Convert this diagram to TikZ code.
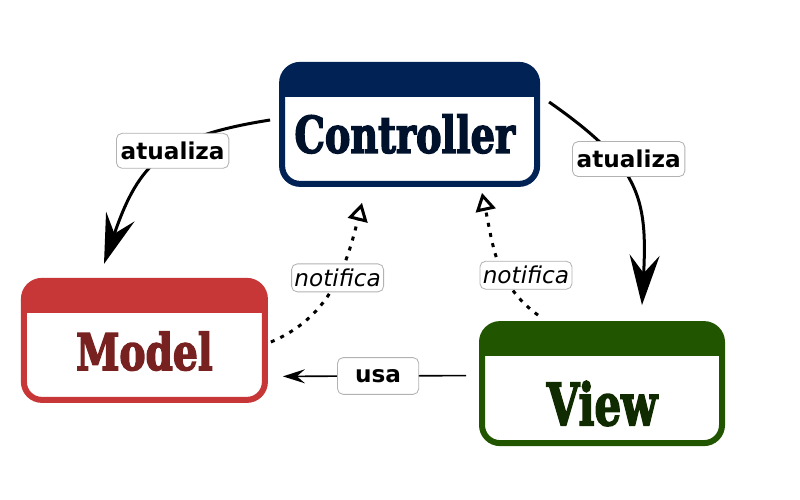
\documentclass[tikz,border=0pt]{standalone}
\usepackage{fontspec}
\usepackage{graphicx}
\setmainfont{DejaVu Sans}
\newfontfamily\slabfont{DejaVu Serif Condensed}[BoldFeatures={FakeBold=3}]
\usetikzlibrary{arrows.meta}

\definecolor{ctrlcor}{HTML}{002255}
\definecolor{ctrltexto}{HTML}{00112B}
\definecolor{modelcor}{HTML}{C83737}
\definecolor{modeltexto}{HTML}{782121}
\definecolor{viewcor}{HTML}{225500}
\definecolor{viewtexto}{HTML}{112B00}

\tikzset{
  camada/.style={draw=#1, line width=0.15cm, rounded corners=0.45cm, fill=white,
    minimum height=2.975cm, inner sep=0pt,
    path picture={\fill[#1, sharp corners] (path picture bounding box.north west) rectangle
      ([yshift=-0.8cm]path picture bounding box.north east);}},
  titulo/.style={anchor=base, text=#1, inner sep=0pt,
    font=\slabfont\bfseries\fontsize{36}{40}\selectfont},
  rotulo/.style={draw=gray!60, fill=white, rounded corners=4pt, line width=0.6pt, solid,
    inner xsep=3pt, inner ysep=0pt, minimum height=0.875cm,
    font=\bfseries\fontsize{16.5}{20}\selectfont},
  rotulousa/.style={rotulo, minimum width=2.03cm, minimum height=0.92cm},
  rotulonotif/.style={rotulo, minimum height=0.7cm, inner xsep=2pt,
    font=\itshape\fontsize{16.5}{20}\selectfont},
  atualiza/.style={line width=0.075cm, -{Stealth[length=1.25cm, width=0.75cm, inset=0.45cm]}},
  usa/.style={line width=0.04cm, -{Stealth[length=0.55cm, width=0.35cm, inset=0.2cm]}},
  notifica/.style={line width=0.075cm, dash pattern=on 0.1cm off 0.16cm,
    -{Triangle[open, length=0.45cm, width=0.5cm]}}
}

\begin{document}
\begin{tikzpicture}
  \useasboundingbox (0,0) rectangle (20,12.5);

  % camadas
  \node [camada=ctrlcor, minimum width=6.375cm] (controller) at (10.24,9.39) {};
  \node [camada=modelcor, minimum width=6.025cm] (model) at (3.61,3.99) {};
  \node [camada=viewcor, minimum width=6cm] (view) at (15.05,2.91) {};

  \node [titulo=ctrltexto] (controller-titulo) at ([xshift=-0.12cm,yshift=-0.71cm]controller.center) {\scalebox{0.84}[1]{Controller}};
  \node [titulo=modeltexto] (model-titulo) at ([yshift=-0.74cm]model.center) {\scalebox{0.86}[1]{Model}};
  \node [titulo=viewtexto] (view-titulo) at ([yshift=-1.04cm]view.center) {\scalebox{0.92}[1.15]{View}};

  % atualiza
  \draw [atualiza] ([xshift=-0.225cm,yshift=0.11cm]controller.west) to[out=189,in=71,looseness=1.25]
    node[rotulo, pos=0.42] (atualiza-model) {atualiza} ([xshift=-1.01cm,yshift=0.35cm]model.north);
  \draw [atualiza] ([xshift=0.225cm,yshift=0.56cm]controller.east) to[out=-35,in=87,looseness=1.25]
    node[rotulo, pos=0.38, xshift=0.22cm, yshift=0.17cm] (atualiza-view) {atualiza} ([xshift=1cm,yshift=0.4cm]view.north);

  % usa
  \draw [usa] ([xshift=-0.325cm,yshift=0.2cm]view.west) --
    node[rotulousa, pos=0.48] (usa) {usa} ([xshift=0.375cm,yshift=-0.9cm]model.east);

  % notifica
  \draw [notifica] ([xshift=0.075cm,yshift=-0.04cm]model.east) to[out=23,in=-104]
    node[rotulonotif, pos=0.56] (notifica-model) {notifica} ([xshift=-1.19cm,yshift=-0.4cm]controller.south);
  \draw [notifica] ([xshift=-1.6cm,yshift=0.15cm]view.north) to[out=144,in=-78]
    node[rotulonotif, pos=0.35, xshift=0.5cm, yshift=0.1cm] (notifica-view) {notifica} ([xshift=1.81cm,yshift=-0.15cm]controller.south);
\end{tikzpicture}
\end{document}
